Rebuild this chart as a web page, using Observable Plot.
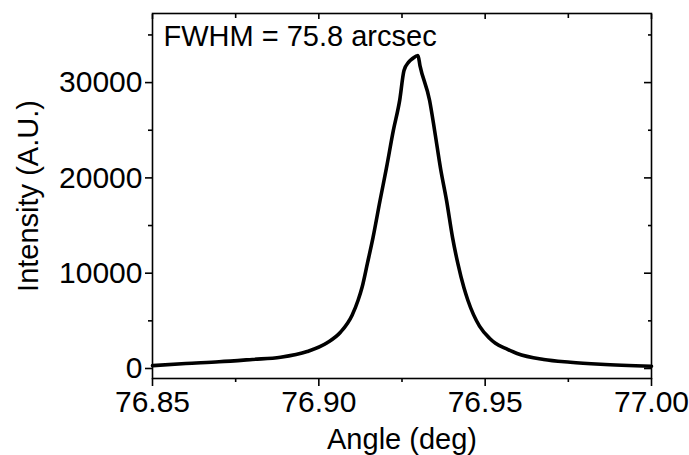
<!DOCTYPE html>
<html>
<head>
<meta charset="utf-8">
<script src="https://cdn.jsdelivr.net/npm/d3@7"></script>
<script src="https://cdn.jsdelivr.net/npm/@observablehq/plot@0.6"></script>
<style>
  html, body { margin: 0; padding: 0; background: #fff; }
  #chart svg { display: block; }
</style>
</head>
<body>
<div id="chart"></div>
<script>
const angle = [76.850, 76.860, 76.870, 76.880, 76.8885, 76.8965, 76.9025, 76.9065, 76.9100, 76.9118,
  76.9130, 76.9146, 76.9163, 76.9184, 76.9203, 76.9224, 76.9243, 76.9256, 76.9270, 76.9282,
  76.9298, 76.9304, 76.9333, 76.9348, 76.9366, 76.9384, 76.9402, 76.9418, 76.9436, 76.9448,
  76.9483, 76.9513, 76.9531, 76.9565, 76.9596, 76.9676, 76.9756, 76.9847, 77.000];
const intensity = [300, 520, 700, 950, 1180, 1780, 2700, 3800, 5590, 7160,
  8520, 11030, 13760, 17630, 20990, 24980, 28130, 31270, 32140, 32530,
  32840, 31790, 28120, 24980, 20960, 17610, 13730, 11000, 8490, 7160,
  4440, 3180, 2650, 2050, 1570, 940, 660, 450, 230];

const xMajor = [76.85, 76.90, 76.95, 77.00];
const xMinor = [76.875, 76.925, 76.975];
const yMajor = [0, 10000, 20000, 30000];
const yMinor = [5000, 15000, 25000, 35000];

const annotation = "FWHM = 75.8 arcsec";
const xLabel = "Angle (deg)";
const yLabel = "Intensity (A.U.)";

const data = angle.map((a, i) => ({angle: a, intensity: intensity[i]}));
const blank = () => "";
const font = "'Liberation Sans', Arial, sans-serif";

const chart = Plot.plot({
  width: 689,
  height: 455,
  marginLeft: 152,
  marginRight: 38,
  marginTop: 13,
  marginBottom: 77,
  style: {fontFamily: font, fontSize: "30px", color: "#000", background: "#fff"},
  x: {domain: [76.85, 77.00]},
  y: {domain: [-1050, 37250]},
  marks: [
    Plot.line(data, {x: "angle", y: "intensity", stroke: "#000", strokeWidth: 3.6, strokeLinejoin: "round", curve: "monotone-x"}),
    Plot.frame({stroke: "#000", strokeWidth: 1.6}),
    Plot.axisX({anchor: "bottom", ticks: xMajor, tickSize: 8, tickPadding: 4, tickFormat: d3.format(".2f"), label: null, fontSize: 30, strokeWidth: 1.6}),
    Plot.axisX({anchor: "bottom", ticks: xMinor, tickSize: 4, tickFormat: blank, label: null, strokeWidth: 1.6}),
    Plot.axisX({anchor: "top", ticks: xMajor, tickSize: -5, tickFormat: blank, label: null, strokeWidth: 1.6}),
    Plot.axisX({anchor: "top", ticks: xMinor, tickSize: -4, tickFormat: blank, label: null, strokeWidth: 1.6}),
    Plot.axisY({anchor: "left", ticks: yMajor, tickSize: 7, tickPadding: 3, tickFormat: d3.format("d"), label: null, fontSize: 30, strokeWidth: 1.6}),
    Plot.axisY({anchor: "left", ticks: yMinor, tickSize: 4, tickFormat: blank, label: null, strokeWidth: 1.6}),
    Plot.axisY({anchor: "right", ticks: yMajor, tickSize: -8, tickFormat: blank, label: null, strokeWidth: 1.6}),
    Plot.axisY({anchor: "right", ticks: yMinor, tickSize: -4, tickFormat: blank, label: null, strokeWidth: 1.6}),
    Plot.text([annotation], {frameAnchor: "top-left", dx: 11, dy: 12, text: d => d, fontSize: 29, fill: "#000", textAnchor: "start", lineAnchor: "top"}),
    Plot.text([xLabel], {frameAnchor: "bottom", dy: 70, text: d => d, fontSize: 29, fill: "#000", lineAnchor: "bottom"}),
    Plot.text([yLabel], {frameAnchor: "left", dx: -124, rotate: -90, text: d => d, fontSize: 29, fill: "#000", textAnchor: "middle", lineAnchor: "middle"})
  ]
});
document.getElementById("chart").appendChild(chart);
</script>
</body>
</html>
